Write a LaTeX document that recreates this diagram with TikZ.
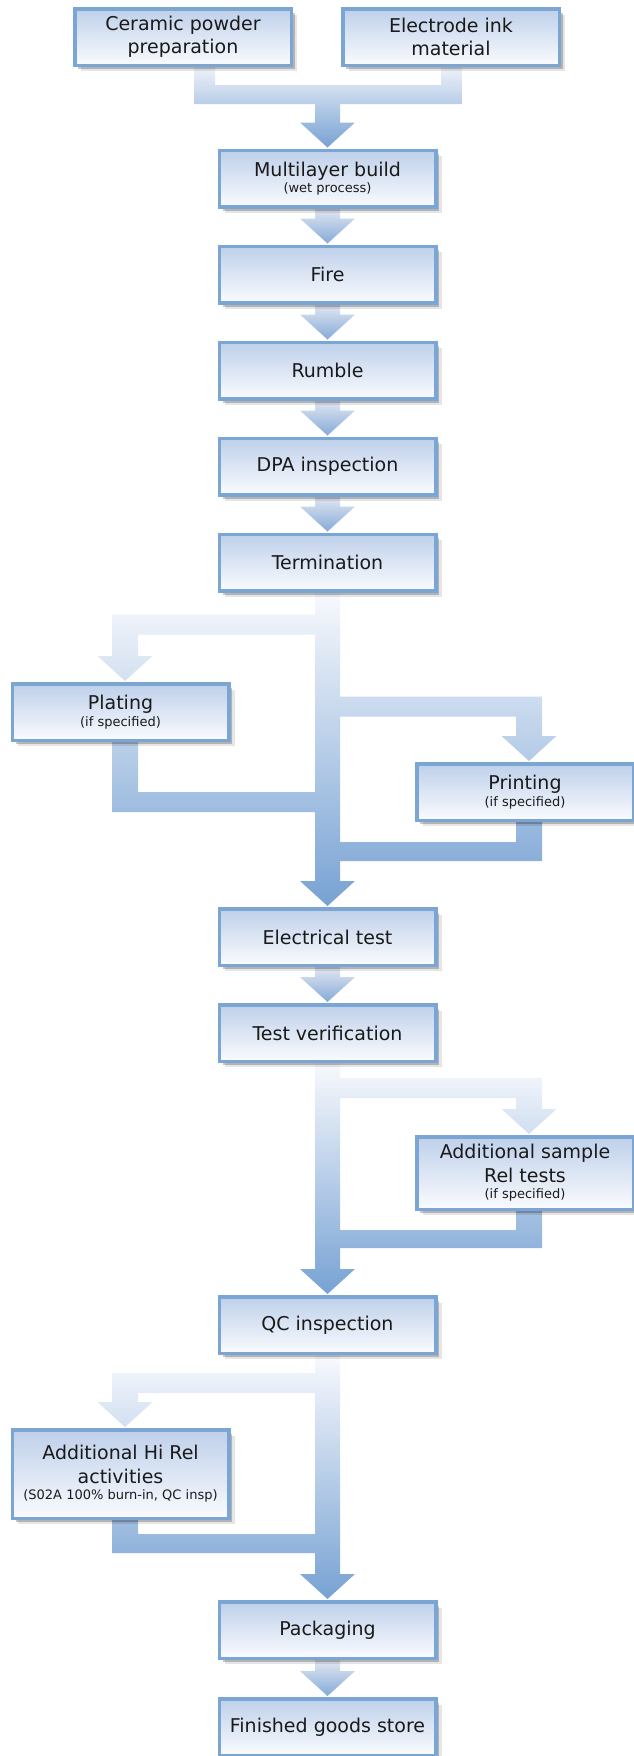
\documentclass[tikz,border=0pt]{standalone}
\usepackage{fontspec}
\setmainfont{DejaVu Sans}
\usetikzlibrary{positioning,calc,shadows}

\definecolor{boxline}{HTML}{7BA6D4}
\definecolor{boxtop}{HTML}{BED0EA}
\definecolor{boxbot}{HTML}{FAFBFE}
\definecolor{bandtop}{HTML}{F8F9FD}
\definecolor{bandbot}{HTML}{77A2D3}
\definecolor{mergetop}{HTML}{EEF2F9}
\definecolor{linktop}{HTML}{E2E7F1}
\definecolor{linkbot}{HTML}{84AAD7}
\definecolor{ink}{HTML}{1A1A1A}

\pgfdeclarelayer{background}
\pgfsetlayers{background,main}

% second, smaller line inside a box
\newcommand\subnote[1]{\\[-7pt]{\fontsize{13}{15}\selectfont #1}}
% down pointing head with its tip at #1
\newcommand\tip[1]{#1 ++(27.5,-25) -- ++(-55,0) -- ++(27.5,25) -- cycle}

\tikzset{
  stage/.style={draw=boxline, line width=3.5pt, top color=boxtop, bottom color=boxbot,
    minimum width=216.5pt, minimum height=56.5pt, inner sep=2pt, align=center,
    text=ink, font=\fontsize{19}{23.5}\selectfont,
    drop shadow={shadow xshift=6pt, shadow yshift=-6pt, opacity=0.10, fill=black},
    drop shadow={shadow xshift=3.5pt, shadow yshift=-4pt, opacity=0.22, fill=black}},
  band/.style={top color=bandtop, bottom color=bandbot},
  link/.style={top color=linktop, bottom color=linkbot},
}

\begin{document}
\begin{tikzpicture}[x=1pt,y=-1pt]
\useasboundingbox (0,0) rectangle (634,1756);

\node[stage] (cer) at (183,37) {Ceramic powder\\preparation};
\node[stage] (ele) at (451,37) {Electrode ink\\material};
\node[stage] (multi) at (327.5,178.5) {Multilayer build\subnote{(wet process)}};
\node[stage, below=36pt of multi] (fire) {Fire};
\node[stage, below=36pt of fire] (rumble) {Rumble};
\node[stage, below=36pt of rumble] (dpa) {DPA inspection};
\node[stage, below=36pt of dpa] (term) {Termination};
\node[stage] (plate) at (120.5,712) {Plating\subnote{(if specified)}};
\node[stage] (print) at (525,792) {Printing\subnote{(if specified)}};
\node[stage, below=314.5pt of term] (elec) {Electrical test};
\node[stage, below=36pt of elec] (verif) {Test verification};
\node[stage, minimum height=72.5pt] (add) at (525,1173)
  {Additional sample\\Rel tests\subnote{(if specified)}};
\node[stage, below=232pt of verif] (qc) {QC inspection};
\node[stage, minimum height=88.5pt] (hirel) at (120.5,1474)
  {Additional Hi Rel\\activities\subnote{(S02A 100\% burn-in, QC insp)}};
\node[stage, below=245pt of qc] (pack) {Packaging};
\node[stage, below=37pt of pack] (store) {Finished goods store};

\begin{pgfonlayer}{background}
% both inputs into the build
\path[band, top color=mergetop]
  ($(cer.south)+(11,0)$) rectangle ($(cer.south)+(32,37)$)
  ($(ele.south)+(-10,0)$) rectangle ($(ele.south)+(11,37)$)
  ($(cer.south)+(11,18)$) rectangle ($(ele.south)+(11,37)$)
  ($(cer.south -| multi.north)+(-12.5,37)$) rectangle ($(multi.north)+(12.5,-25)$)
  \tip{($(multi.north)+(0,-1)$)};

% straight steps
\foreach \a/\b in {multi/fire,fire/rumble,rumble/dpa,dpa/term,elec/verif,pack/store}
  \path[link] ($(\a.south)+(-12.5,0)$) rectangle ($(\b.north)+(12.5,-25)$)
    \tip{($(\b.north)+(0,-1)$)};

% termination, optional plating and printing
\path[band]
  ($(term.south)+(-12.5,0)$) rectangle ($(elec.north)+(12.5,-25)$)
  \tip{($(elec.north)+(0,-1)$)}
  ($(term.south -| plate.north)+(-8.5,22)$) rectangle ($(term.south)+(0,42)$)
  ($(term.south -| plate.north)+(-8.5,22)$) rectangle ($(plate.north)+(17.5,-25)$)
  \tip{($(plate.north)+(4.5,-1)$)}
  ($(plate.south)+(-8.5,0)$) rectangle ($(plate.south)+(17.5,70)$)
  ($(plate.south)+(-8.5,50)$) rectangle ($(plate.south -| term.south)+(0,70)$)
  ($(term.south)+(0,104)$) rectangle ($(term.south -| print.north)+(17,124)$)
  ($(term.south -| print.north)+(-9,104)$) rectangle ($(print.north)+(17,-25)$)
  \tip{($(print.north)+(4,-1)$)}
  ($(print.south)+(-9,0)$) rectangle ($(print.south)+(17,39)$)
  ($(print.south -| term.south)+(0,20)$) rectangle ($(print.south)+(17,39)$);

% verification, optional sample tests
\path[band]
  ($(verif.south)+(-12.5,0)$) rectangle ($(qc.north)+(12.5,-25)$)
  \tip{($(qc.north)+(0,-1)$)}
  ($(verif.south)+(0,15)$) rectangle ($(verif.south -| add.north)+(17,35)$)
  ($(verif.south -| add.north)+(-9,15)$) rectangle ($(add.north)+(17,-25)$)
  \tip{($(add.north)+(4,-1)$)}
  ($(add.south)+(-9,0)$) rectangle ($(add.south)+(17,37)$)
  ($(add.south -| verif.south)+(0,19)$) rectangle ($(add.south)+(17,37)$);

% qc, optional hi rel
\path[band]
  ($(qc.south)+(-12.5,0)$) rectangle ($(pack.north)+(12.5,-25)$)
  \tip{($(pack.north)+(0,-1)$)}
  ($(qc.south -| hirel.north)+(-8.5,18)$) rectangle ($(qc.south)+(0,38)$)
  ($(qc.south -| hirel.north)+(-8.5,18)$) rectangle ($(hirel.north)+(17.5,-25)$)
  \tip{($(hirel.north)+(4.5,-1)$)}
  ($(hirel.south)+(-8.5,0)$) rectangle ($(hirel.south)+(17.5,33)$)
  ($(hirel.south)+(-8.5,14)$) rectangle ($(hirel.south -| qc.south)+(0,33)$);
\end{pgfonlayer}
\end{tikzpicture}
\end{document}
